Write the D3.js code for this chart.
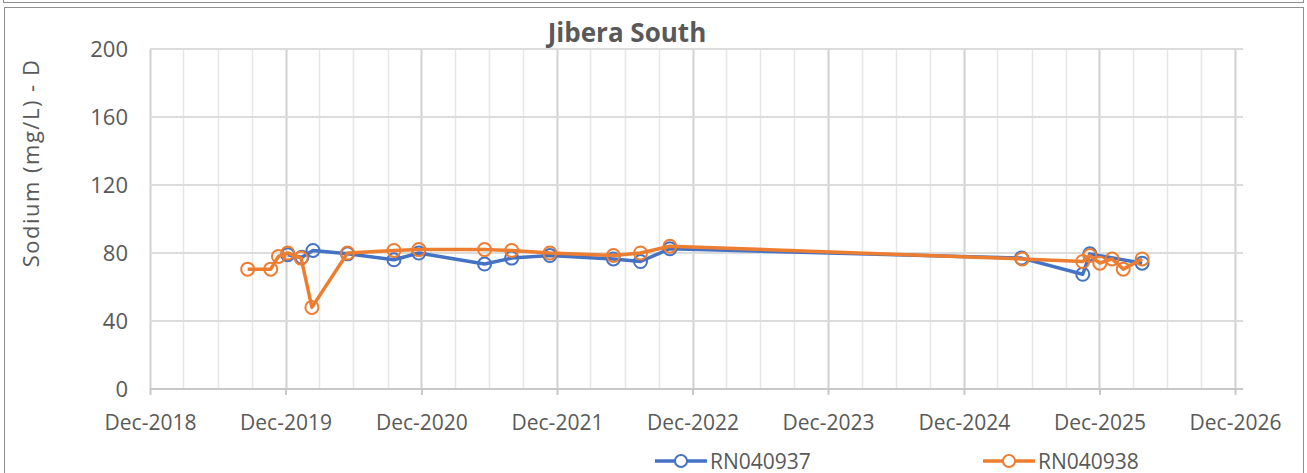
<!DOCTYPE html>
<html>
<head>
<meta charset="utf-8">
<script src="https://cdn.jsdelivr.net/npm/d3@7"></script>
<style>
  body { margin: 0; background: #fff; }
  text { font-family: "Open Sans", sans-serif; fill: #595959; }
</style>
</head>
<body>
<svg id="chart" width="1307" height="473"></svg>
<script>
// data
var seriesNames = ["RN040937", "RN040938"];
var seriesColors = ["#4472C4", "#ED7D31"];

var datesA = ["2019-12-07", "2020-01-14", "2020-02-13", "2020-05-16", "2020-09-18", "2020-11-24",
  "2021-05-20", "2021-08-01", "2021-11-12", "2022-05-02", "2022-07-14", "2022-10-01",
  "2025-05-05", "2025-10-17", "2025-11-05", "2026-03-26"];
var valuesA = [79, 77.5, 81.5, 79.5, 76, 80, 73.5, 77, 78.5, 76.5, 75, 82.5, 77, 67.5, 79.5, 74];

var datesB = ["2019-08-21", "2019-10-22", "2019-11-12", "2019-12-07", "2020-01-12", "2020-02-10",
  "2020-05-16", "2020-09-18", "2020-11-24", "2021-05-20", "2021-08-01", "2021-11-12",
  "2022-05-02", "2022-07-14", "2022-10-01", "2025-05-07", "2025-10-17", "2025-11-05",
  "2025-12-02", "2026-01-04", "2026-02-03", "2026-03-26"];
var valuesB = [70.5, 70.5, 78, 80, 77, 48, 80, 81.5, 82, 82, 81.5, 80, 78.5, 80, 84, 76.5,
  75, 78.5, 74, 76.5, 70.5, 76.5];

var yTicks = [0, 40, 80, 120, 160, 200];
var xStart = "2018-12-01", xEnd = "2026-12-01";

var parse = d3.timeParse("%Y-%m-%d");
var svg = d3.select("#chart");

// frames
svg.append("rect").attr("x", 3.5).attr("y", -10).attr("width", 1300).attr("height", 12.5)
  .attr("fill", "none").attr("stroke", "#8f8f8f");
svg.append("rect").attr("x", 4.5).attr("y", 7.5).attr("width", 1299).attr("height", 480)
  .attr("fill", "none").attr("stroke", "#8f8f8f");

var x = d3.scaleTime().domain([parse(xStart), parse(xEnd)]).range([150, 1235]);
var y = d3.scaleLinear().domain([0, 200]).range([389, 49]);

// gridlines
var quarters = d3.timeMonth.range(parse(xStart), d3.timeDay.offset(parse(xEnd), 1), 3);
svg.append("g").selectAll("line").data(quarters).join("line")
  .attr("x1", function(d) { return Math.round(x(d)) + 0.5; })
  .attr("x2", function(d) { return Math.round(x(d)) + 0.5; })
  .attr("y1", y(200)).attr("y2", y(0))
  .attr("stroke", function(d) { return d.getMonth() === 11 ? "#d0d0d0" : "#e6e6e6"; })
  .attr("stroke-width", function(d) { return d.getMonth() === 11 ? 2 : 1.5; });

svg.append("g").selectAll("line").data(yTicks.slice(1)).join("line")
  .attr("x1", 150).attr("x2", 1243)
  .attr("y1", function(d) { return y(d); }).attr("y2", function(d) { return y(d); })
  .attr("stroke", "#dcdcdc").attr("stroke-width", 2);

// x axis
var yearTicks = quarters.filter(function(d) { return d.getMonth() === 11; });
var xAxis = svg.append("g").attr("transform", "translate(0," + y(0) + ")")
  .call(d3.axisBottom(x).tickValues(yearTicks).tickFormat(d3.timeFormat("%b-%Y"))
    .tickSize(6).tickPadding(20));
xAxis.select(".domain").attr("stroke", "#c8c8c8").attr("stroke-width", 2)
  .attr("d", "M150,0H1243");
xAxis.selectAll(".tick line").attr("stroke", "#c8c8c8").attr("stroke-width", 2);
xAxis.selectAll(".tick text").style("font-size", "21px").attr("fill", "#595959");

// y axis labels
var yAxis = svg.append("g").attr("transform", "translate(150,0)")
  .call(d3.axisLeft(y).tickValues(yTicks).tickSize(0).tickPadding(22));
yAxis.select(".domain").remove();
yAxis.selectAll(".tick text").style("font-size", "22px").attr("fill", "#595959");

// titles
svg.append("text").attr("x", 627).attr("y", 42).attr("text-anchor", "middle")
  .style("font-size", "26px").style("font-weight", "bold").text("Jibera South");
svg.append("text").attr("transform", "translate(39,163) rotate(-90)")
  .attr("text-anchor", "middle").style("font-size", "22px").style("letter-spacing", "1.5px")
  .text("Sodium  (mg/L) - D");

// series
var series = [
  { name: seriesNames[0], color: seriesColors[0], dates: datesA, values: valuesA },
  { name: seriesNames[1], color: seriesColors[1], dates: datesB, values: valuesB }
];
var line = d3.line().x(function(d) { return x(d.date); }).y(function(d) { return y(d.value); });

series.forEach(function(s) {
  var pts = s.dates.map(function(d, i) { return { date: parse(d), value: s.values[i] }; });
  var g = svg.append("g");
  g.append("path").datum(pts).attr("d", line).attr("fill", "none")
    .attr("stroke", s.color).attr("stroke-width", 3.5).attr("stroke-linejoin", "round");
  g.selectAll("circle").data(pts).join("circle")
    .attr("cx", function(d) { return x(d.date); }).attr("cy", function(d) { return y(d.value); })
    .attr("r", 6.5).attr("fill", "none").attr("stroke", s.color).attr("stroke-width", 2);
});

// legend
var legendX = [655, 983];
series.forEach(function(s, i) {
  var g = svg.append("g").attr("transform", "translate(" + legendX[i] + ",461)");
  g.append("line").attr("x1", 0).attr("x2", 52).attr("stroke", s.color).attr("stroke-width", 3.5);
  g.append("circle").attr("cx", 26).attr("r", 6).attr("fill", "#fff")
    .attr("stroke", s.color).attr("stroke-width", 2);
  g.append("text").attr("x", 55).attr("y", 7.5).style("font-size", "21px").text(s.name);
});
</script>
</body>
</html>
